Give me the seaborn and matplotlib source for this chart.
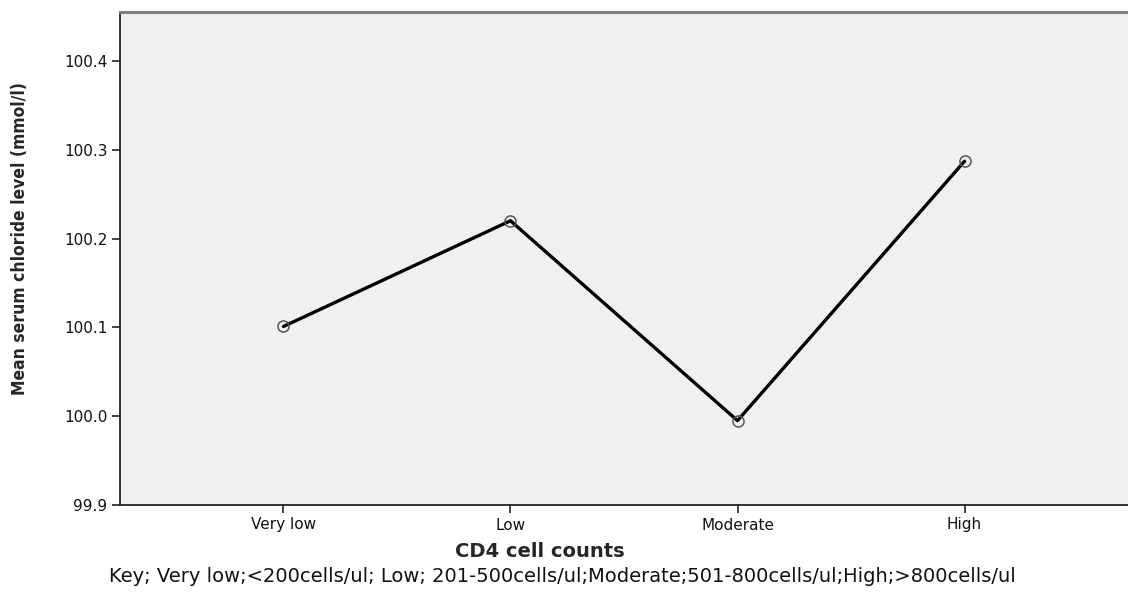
import matplotlib
matplotlib.use("Agg")
import matplotlib.pyplot as plt
import seaborn as sns
import pandas as pd

# CD4 cell count groups and mean serum chloride per group
categories = ["Very low", "Low", "Moderate", "High"]
means = [100.101, 100.220, 99.995, 100.287]
y_ticks = [99.9, 100.0, 100.1, 100.2, 100.3, 100.4]

key_text = ("Key; Very low;<200cells/ul; Low; 201-500cells/ul;"
            "Moderate;501-800cells/ul;High;>800cells/ul")

sns.set_style("ticks")
plt.rcParams["font.family"] = ["DejaVu Sans"]

df = pd.DataFrame({"group": categories, "mean": means})

fig = plt.figure(figsize=(11.28, 5.97), dpi=100)
ax = fig.add_axes([120 / 1128, 92 / 597, 1 - 120 / 1128, (505 - 12) / 597])
ax.set_facecolor("#f0f0f0")

sns.lineplot(data=df, x="group", y="mean", sort=False, ax=ax,
             color="black", linewidth=2.4, marker="o", markersize=8,
             markerfacecolor="none", markeredgecolor="#555555",
             markeredgewidth=1.1)

ax.set_xlim(-0.72, 3.72)
ax.set_ylim(99.9, 100.455)
ax.set_yticks(y_ticks)
ax.set_yticklabels([f"{v:.1f}" for v in y_ticks])

for side in ("left", "bottom"):
    ax.spines[side].set_color("#222222")
    ax.spines[side].set_linewidth(1.3)
ax.spines["top"].set_color("#808080")
ax.spines["top"].set_linewidth(2.2)
ax.spines["right"].set_visible(False)

ax.tick_params(axis="both", direction="out", length=6, width=1.2,
               color="#222222", labelsize=11, labelcolor="#111111", pad=3)

ax.set_xlabel("CD4 cell counts", fontsize=14, fontweight="bold")
ax.xaxis.set_label_coords((540 - 120) / 1008, -0.075)
ax.set_ylabel("Mean serum chloride level (mmol/l)", fontsize=12.5,
              fontweight="bold", fontstretch="condensed")
ax.yaxis.set_label_coords(-0.09, 0.54)

fig.text(562 / 1128, 1 - 577 / 597, key_text, ha="center", va="center",
         fontsize=14, color="#111111")

fig.savefig("out.png", dpi=100)
